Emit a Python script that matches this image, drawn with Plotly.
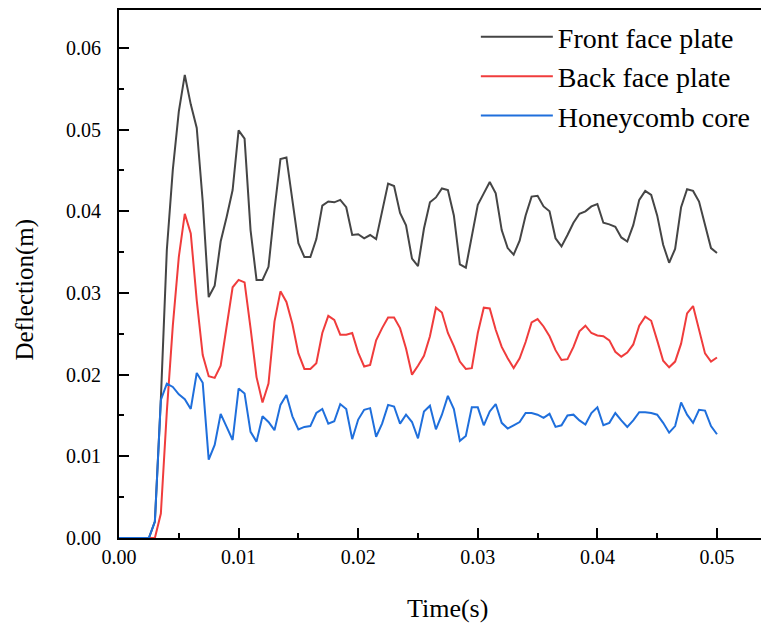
import plotly.graph_objects as go

# sampling grid: 0 to 0.05 s, step 0.0005 s
time_s = [round(i * 0.0005, 4) for i in range(101)]

front_face = [
    0, 0, 0, 0, 0, 0, 0.0020, 0.0170, 0.0353, 0.0451,
    0.0522, 0.0567, 0.0531, 0.0502, 0.0412, 0.0295, 0.0309, 0.0363, 0.0393, 0.0426,
    0.0499, 0.0489, 0.0377, 0.0316, 0.0316, 0.0332, 0.0402, 0.0464, 0.0466, 0.0414,
    0.0361, 0.0344, 0.0344, 0.0366, 0.0407, 0.0412, 0.0411, 0.0414, 0.0405, 0.0371,
    0.0372, 0.0367, 0.0371, 0.0366, 0.0400, 0.0434, 0.0431, 0.0398, 0.0383, 0.0342,
    0.0333, 0.0379, 0.0411, 0.0417, 0.0428, 0.0426, 0.0395, 0.0335, 0.0331, 0.0371,
    0.0408, 0.0422, 0.0436, 0.0422, 0.0377, 0.0355, 0.0347, 0.0364, 0.0395, 0.0418,
    0.0419, 0.0406, 0.0400, 0.0367, 0.0357, 0.0371, 0.0386, 0.0397, 0.0400, 0.0406,
    0.0409, 0.0386, 0.0384, 0.0381, 0.0368, 0.0363, 0.0383, 0.0414, 0.0425, 0.0420,
    0.0395, 0.0359, 0.0337, 0.0354, 0.0405, 0.0427, 0.0425, 0.0412, 0.0383, 0.0355,
    0.0349,
]

back_face = [
    0, 0, 0, 0, 0, 0, 0, 0.0030, 0.0155, 0.0260,
    0.0344, 0.0397, 0.0373, 0.0291, 0.0224, 0.0198, 0.0196, 0.0211, 0.0259, 0.0307,
    0.0316, 0.0313, 0.0257, 0.0197, 0.0166, 0.0189, 0.0265, 0.0302, 0.0289, 0.0262,
    0.0226, 0.0207, 0.0207, 0.0214, 0.0251, 0.0272, 0.0267, 0.0249, 0.0249, 0.0251,
    0.0227, 0.0210, 0.0212, 0.0242, 0.0257, 0.0270, 0.0270, 0.0257, 0.0232, 0.0200,
    0.0211, 0.0223, 0.0247, 0.0282, 0.0276, 0.0251, 0.0235, 0.0216, 0.0207, 0.0208,
    0.0251, 0.0282, 0.0281, 0.0255, 0.0234, 0.0220, 0.0208, 0.0220, 0.0240, 0.0264,
    0.0268, 0.0259, 0.0247, 0.0230, 0.0218, 0.0219, 0.0234, 0.0253, 0.0260, 0.0251,
    0.0248, 0.0247, 0.0242, 0.0228, 0.0222, 0.0227, 0.0237, 0.0260, 0.0271, 0.0266,
    0.0242, 0.0217, 0.0209, 0.0216, 0.0238, 0.0275, 0.0284, 0.0255, 0.0226, 0.0216,
    0.0221,
]

honeycomb_core = [
    0, 0, 0, 0, 0, 0, 0.0020, 0.0169, 0.0189, 0.0185,
    0.0176, 0.0170, 0.0158, 0.0202, 0.0190, 0.0096, 0.0114, 0.0152, 0.0136, 0.0120,
    0.0183, 0.0177, 0.0130, 0.0118, 0.0149, 0.0142, 0.0132, 0.0163, 0.0175, 0.0149,
    0.0133, 0.0136, 0.0137, 0.0153, 0.0158, 0.0140, 0.0143, 0.0164, 0.0158, 0.0121,
    0.0145, 0.0157, 0.0159, 0.0124, 0.0140, 0.0163, 0.0161, 0.0140, 0.0151, 0.0142,
    0.0122, 0.0155, 0.0162, 0.0133, 0.0151, 0.0174, 0.0158, 0.0119, 0.0125, 0.0160,
    0.0160, 0.0138, 0.0155, 0.0164, 0.0141, 0.0134, 0.0138, 0.0142, 0.0153, 0.0153,
    0.0151, 0.0147, 0.0152, 0.0136, 0.0138, 0.0150, 0.0151, 0.0144, 0.0139, 0.0153,
    0.0160, 0.0138, 0.0141, 0.0153, 0.0144, 0.0136, 0.0144, 0.0154, 0.0154, 0.0153,
    0.0151, 0.0141, 0.0129, 0.0137, 0.0166, 0.0151, 0.0141, 0.0157, 0.0156, 0.0137,
    0.0127,
]

series_names = ["Front face plate", "Back face plate", "Honeycomb core"]
x_ticks = [0.00, 0.01, 0.02, 0.03, 0.04, 0.05]
y_ticks = [0.00, 0.01, 0.02, 0.03, 0.04, 0.05, 0.06]

FONT = "Liberation Serif"
colors = ["#454545", "#f03c3c", "#1f6fdc"]

fig = go.Figure()
for name, vals, col in zip(series_names, [front_face, back_face, honeycomb_core], colors):
    fig.add_trace(go.Scatter(x=time_s, y=vals, mode="lines", name=name,
                             line=dict(color=col, width=2)))

axis_common = dict(
    showline=True, linecolor="black", linewidth=2,
    ticks="inside", tickcolor="black", tickwidth=2, ticklen=10,
    showgrid=False, zeroline=False, automargin=False,
    tickfont=dict(family=FONT, size=20, color="black"),
    tickformat=".2f",
    minor=dict(ticks="inside", ticklen=5, tickwidth=2, tickcolor="black", dtick=0.005, showgrid=False),
)

fig.update_xaxes(range=[0, 0.05435], tickvals=x_ticks, mirror=True, ticklabelstandoff=0, **axis_common)
fig.update_yaxes(range=[0, 0.06465], tickvals=y_ticks, mirror=False, ticklabelstandoff=12, **axis_common)

fig.add_annotation(text="Time(s)", xref="paper", yref="paper", x=0.505, y=-0.133,
                   xanchor="center", yanchor="middle", showarrow=False,
                   font=dict(family=FONT, size=26, color="black"))
fig.add_annotation(text="Deflection(m)", xref="paper", yref="paper", x=-0.145, y=0.47,
                   xanchor="center", yanchor="middle", showarrow=False, textangle=-90,
                   font=dict(family=FONT, size=25, color="black"))

# page body has an 8px default margin, so the figure is sized to fill the window from that offset
fig.update_layout(
    width=761, height=618,
    margin=dict(l=111, r=0, t=2, b=88, autoexpand=False),
    plot_bgcolor="white", paper_bgcolor="white",
    showlegend=True,
    legend=dict(x=0.549, y=0.996, xanchor="left", yanchor="top",
                bgcolor="rgba(0,0,0,0)", itemwidth=72,
                font=dict(family=FONT, size=28, color="black")),
)

fig.write_html("out.html")
